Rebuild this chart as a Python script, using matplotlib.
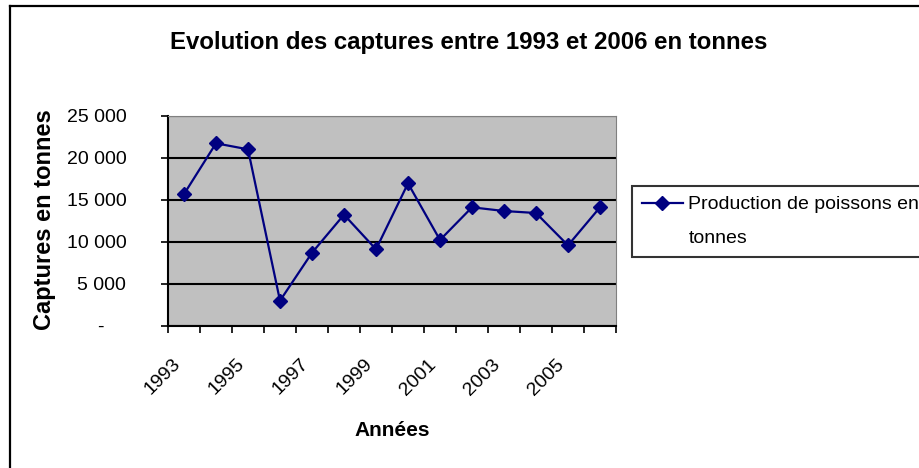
import matplotlib.pyplot as plt
from matplotlib.lines import Line2D
from matplotlib.ticker import FixedLocator, FuncFormatter

plt.rcParams['font.family'] = ['Liberation Sans', 'DejaVu Sans']

# Données
annees = list(range(1993, 2007))
captures = [15700, 21750, 21030, 3010, 8720, 13250, 9130, 16980,
            10240, 14130, 13690, 13450, 9600, 14130]
labels_annees = [str(a) if (a - 1993) % 2 == 0 else '' for a in annees]

W, H = 919, 468
fig = plt.figure(figsize=(W / 100, H / 100), dpi=100)

# Zone de tracé (coordonnées en pixels de l'image de référence)
x0, x1, y0, y1 = 168, 616, 116, 326
ax = fig.add_axes([x0 / W, 1 - y1 / H, (x1 - x0) / W, (y1 - y0) / H])
ax.set_facecolor('#C0C0C0')

pos = list(range(len(annees)))
ligne, = ax.plot(pos, captures, color='#000080', marker='D', markersize=7.5, lw=1.6,
                 zorder=3)

ax.set_xlim(-0.5, len(annees) - 0.5)
ax.set_ylim(0, 25000)
ax.set_yticks(range(0, 25001, 5000))
ax.yaxis.set_major_formatter(FuncFormatter(
    lambda v, p: '-    ' if v == 0 else f'{int(v):,}'.replace(',', ' ')))
ax.grid(axis='y', color='black', lw=1.5)
ax.set_axisbelow(True)

# Graduations aux bornes des catégories, étiquettes au centre
ax.xaxis.set_major_locator(FixedLocator([p - 0.5 for p in range(len(annees) + 1)]))
ax.xaxis.set_major_formatter(FuncFormatter(lambda v, p: ''))
ax.xaxis.set_minor_locator(FixedLocator(pos))
ax.set_xticklabels(labels_annees, minor=True, rotation=45, ha='right', va='bottom',
                   rotation_mode='anchor', fontsize=14)
ax.tick_params(axis='x', which='minor', length=0, pad=30)
ax.tick_params(axis='x', which='major', length=5, width=1.2, direction='out')
ax.tick_params(axis='y', length=5, width=1.2, direction='out', labelsize=14, pad=25)

for s in ['top', 'right']:
    ax.spines[s].set_color('#808080')
for s in ['left', 'bottom']:
    ax.spines[s].set_color('black')
    ax.spines[s].set_linewidth(1.5)

fig.text(392 / W, 1 - 430 / H, 'Années', ha='center', va='center',
         fontsize=15, fontweight='bold')
fig.text(45 / W, 1 - 220 / H, 'Captures en tonnes', ha='center', va='center',
         rotation=90, fontsize=17, fontweight='bold')
fig.text(469 / W, 1 - 42 / H, 'Evolution des captures entre 1993 et 2006 en tonnes',
         ha='center', va='center', fontsize=17.3, fontweight='bold')

vide = Line2D([], [], color='none')
leg = fig.legend([ligne, vide], ['Production de poissons en', 'tonnes'],
                 loc='upper left', bbox_to_anchor=(632 / W, 1 - 186 / H),
                 fontsize=14, frameon=True, fancybox=False, edgecolor='black',
                 handlelength=2.1, handletextpad=0.3, borderpad=0.5,
                 labelspacing=0.85, borderaxespad=0)
leg.get_frame().set_linewidth(1.5)

# Cadre extérieur du graphique (haut et gauche)
fig.add_artist(Line2D([9.5 / W, 9.5 / W], [0, 1 - 5.5 / H], color='black', lw=1.6,
                      transform=fig.transFigure))
fig.add_artist(Line2D([9.5 / W, 1], [1 - 5.5 / H, 1 - 5.5 / H], color='black', lw=1.6,
                      transform=fig.transFigure))

fig.savefig('out.png', dpi=100)
